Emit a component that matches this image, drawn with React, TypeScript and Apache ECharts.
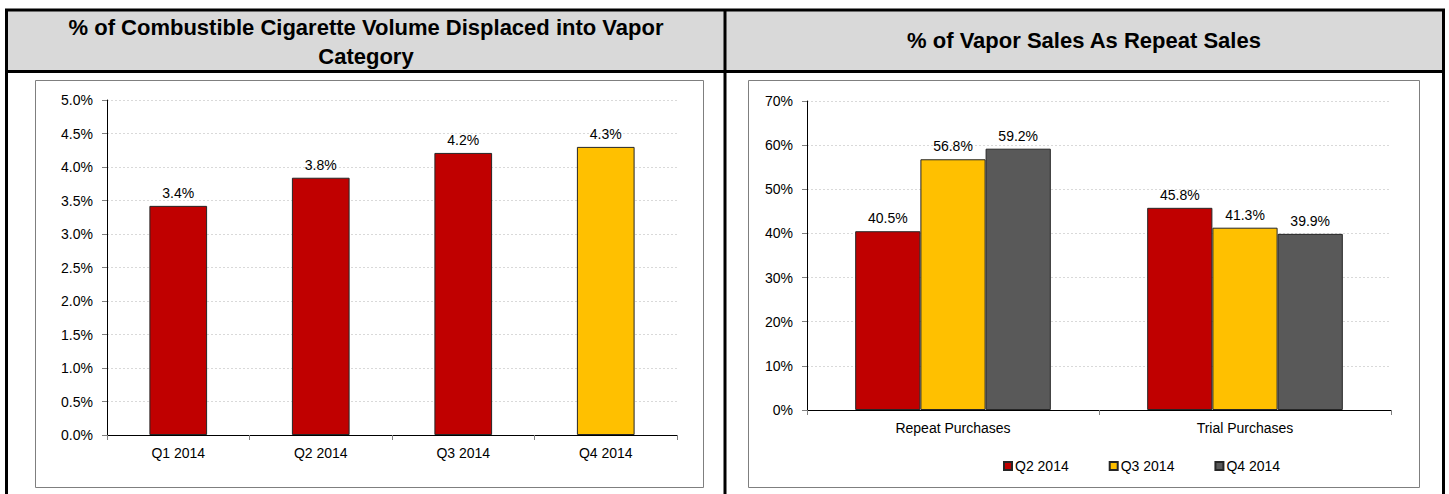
import React, { useEffect, useRef } from "react";
import * as echarts from "echarts";

const leftTitleLines = ["% of Combustible Cigarette Volume Displaced into Vapor", "Category"];
const rightTitle = "% of Vapor Sales As Repeat Sales";

const leftCategories = ["Q1 2014", "Q2 2014", "Q3 2014", "Q4 2014"];
const leftValues = [3.42, 3.84, 4.21, 4.3];
const leftHighlightIndex = 3;

const rightCategories = ["Repeat Purchases", "Trial Purchases"];
const seriesNames = ["Q2 2014", "Q3 2014", "Q4 2014"];
const q2Values = [40.5, 45.8];
const q3Values = [56.8, 41.3];
const q4Values = [59.2, 39.9];

const leftMax = 5;
const leftInterval = 0.5;
const rightMax = 70;
const rightInterval = 10;

const RED = "#C00000";
const YELLOW = "#FFC000";
const GRAY = "#595959";
const FONT = "'Liberation Sans', Arial, sans-serif";
const TITLE_FONT = "'Liberation Sans', Arial, sans-serif";

export default function App() {
  const ref = useRef<HTMLDivElement>(null);

  useEffect(() => {
    if (!ref.current) return;
    const chart = echarts.init(ref.current, undefined, { renderer: "svg" });

    const barBorder = { borderColor: "#262626", borderWidth: 1 };
    const labelCfg = (fmt: (v: number) => string) => ({
      show: true,
      position: "top" as const,
      distance: 6,
      color: "#000",
      fontSize: 14,
      fontFamily: FONT,
      formatter: (p: any) => fmt(p.value as number),
    });

    const yAxisCommon = {
      type: "value" as const,
      min: 0,
      axisLine: { show: true, lineStyle: { color: "#000", width: 1 } },
      axisTick: { show: true, length: 5, lineStyle: { color: "#808080" } },
      splitLine: { show: true, lineStyle: { color: "#d9d9d9", type: [2, 2] as any, width: 1 } },
      axisLabel: { color: "#000", fontSize: 14, fontFamily: FONT, margin: 14 },
    };
    const xAxisCommon = {
      type: "category" as const,
      axisLine: { show: true, lineStyle: { color: "#000", width: 1 } },
      axisTick: { show: true, length: 5, lineStyle: { color: "#808080" } },
      axisLabel: { color: "#000", fontSize: 14, fontFamily: FONT, margin: 11 },
    };

    const mkSeries = (name: string, data: number[], color: string) => ({
      name,
      type: "bar" as const,
      xAxisIndex: 1,
      yAxisIndex: 1,
      data,
      barGap: "0%",
      barCategoryGap: "33%",
      itemStyle: { color, ...barBorder },
      label: labelCfg((v) => v.toFixed(1) + "%"),
    });

    const titleText = (text: string, x: number, y: number) => ({
      type: "text",
      style: {
        text,
        x,
        y,
        textAlign: "center",
        textVerticalAlign: "middle",
        fontSize: 22,
        fontWeight: "bold",
        fontFamily: TITLE_FONT,
        fill: "#000",
      },
    });

    const option: any = {
      animation: false,
      backgroundColor: "#fff",
      textStyle: { fontFamily: FONT },
      grid: [
        { left: 107, top: 100, width: 570, height: 335 },
        { left: 807, top: 101, width: 584, height: 309 },
      ],
      xAxis: [
        { ...xAxisCommon, gridIndex: 0, data: leftCategories },
        { ...xAxisCommon, gridIndex: 1, data: rightCategories },
      ],
      yAxis: [
        {
          ...yAxisCommon,
          gridIndex: 0,
          max: leftMax,
          interval: leftInterval,
          axisLabel: { ...yAxisCommon.axisLabel, formatter: (v: number) => v.toFixed(1) + "%" },
        },
        {
          ...yAxisCommon,
          gridIndex: 1,
          max: rightMax,
          interval: rightInterval,
          axisLabel: { ...yAxisCommon.axisLabel, formatter: (v: number) => v + "%" },
        },
      ],
      legend: {
        data: seriesNames,
        left: 998,
        top: 454,
        itemWidth: 8,
        itemHeight: 8,
        itemGap: 40,
        icon: "rect",
        textStyle: { color: "#000", fontSize: 14, fontFamily: FONT, padding: [0, 0, 0, -2] },
      },
      series: [
        {
          name: "Displaced",
          type: "bar",
          xAxisIndex: 0,
          yAxisIndex: 0,
          barCategoryGap: "59.5%",
          data: leftValues.map((v, i) => ({
            value: v,
            itemStyle: { color: i === leftHighlightIndex ? YELLOW : RED, ...barBorder },
          })),
          itemStyle: { color: RED, ...barBorder },
          label: labelCfg((v) => v.toFixed(1) + "%"),
        },
        mkSeries(seriesNames[0], q2Values, RED),
        mkSeries(seriesNames[1], q3Values, YELLOW),
        mkSeries(seriesNames[2], q4Values, GRAY),
      ],
      graphic: [
        { type: "rect", z: -10, shape: { x: 7, y: 10, width: 1436, height: 61 }, style: { fill: "#D9D9D9" } },
        { type: "rect", shape: { x: 35.5, y: 80.5, width: 668, height: 407 }, style: { fill: "none", stroke: "#7f7f7f", lineWidth: 1 } },
        { type: "rect", shape: { x: 748.5, y: 80.5, width: 671, height: 407 }, style: { fill: "none", stroke: "#7f7f7f", lineWidth: 1 } },
        { type: "line", shape: { x1: 5, y1: 10, x2: 1445, y2: 10 }, style: { stroke: "#000", lineWidth: 3 } },
        { type: "line", shape: { x1: 5, y1: 71.5, x2: 1445, y2: 71.5 }, style: { stroke: "#000", lineWidth: 3 } },
        { type: "line", shape: { x1: 6.5, y1: 9, x2: 6.5, y2: 500 }, style: { stroke: "#000", lineWidth: 3 } },
        { type: "line", shape: { x1: 725, y1: 9, x2: 725, y2: 500 }, style: { stroke: "#000", lineWidth: 3 } },
        { type: "line", shape: { x1: 1443.5, y1: 9, x2: 1443.5, y2: 500 }, style: { stroke: "#000", lineWidth: 3 } },
        titleText(leftTitleLines[0], 366, 27),
        titleText(leftTitleLines[1], 366, 56),
        titleText(rightTitle, 1084, 40),
      ],
    };

    chart.setOption(option);
    return () => chart.dispose();
  }, []);

  return (
    <div
      ref={ref}
      style={{ position: "absolute", left: 0, top: 0, width: 1449, height: 494, background: "#fff" }}
    />
  );
}
